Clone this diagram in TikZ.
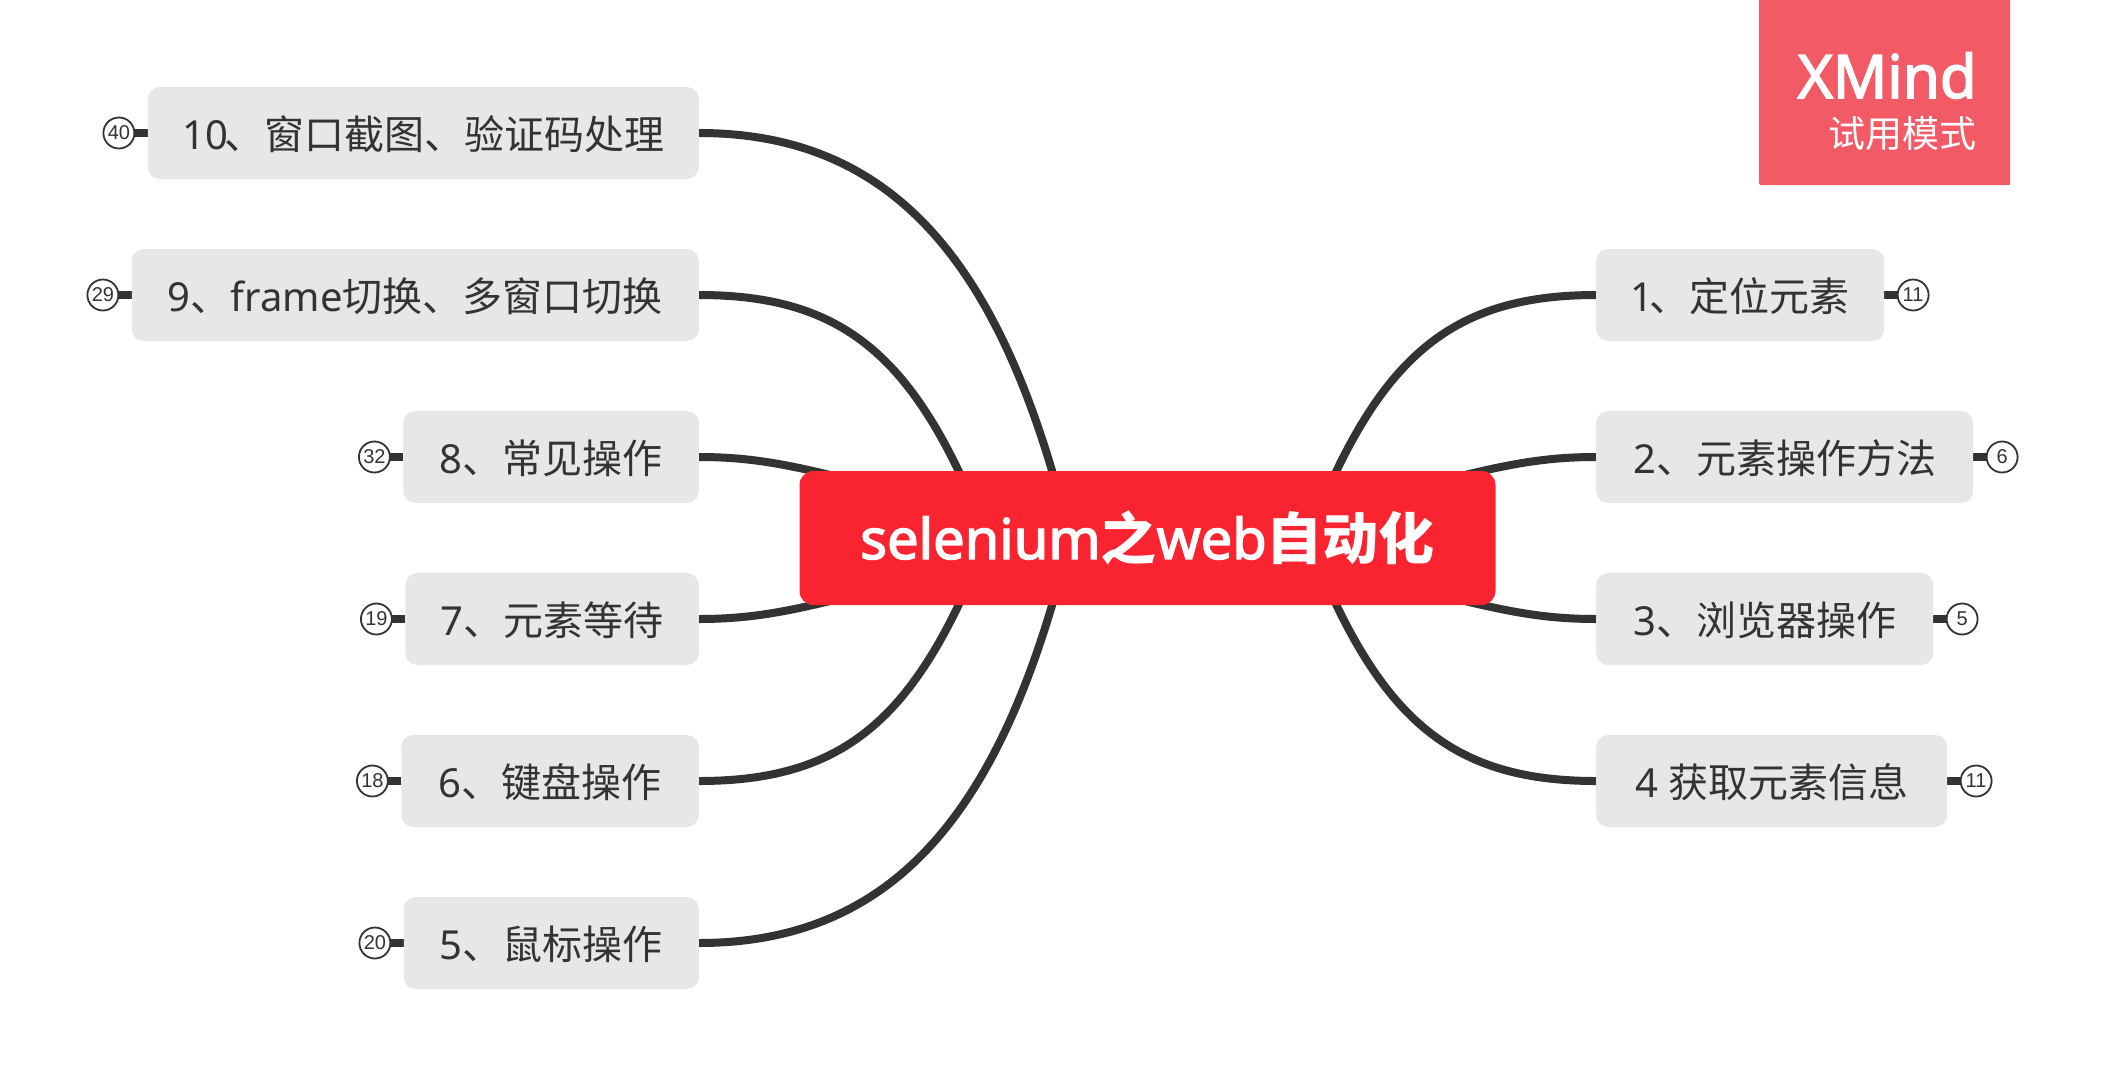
\documentclass[tikz,border=0pt]{standalone}
\usepackage{fontspec}
\usetikzlibrary{calc,backgrounds}
\setmainfont{Noto Sans}
\newfontfamily\latb{Noto Sans}[FakeBold=2.5]
\newfontfamily\cjk{Noto Sans CJK SC}
\newfontfamily\arl{Liberation Sans}
\definecolor{ink}{HTML}{333333}
\definecolor{boxgrey}{HTML}{E7E7E7}
\definecolor{hubred}{HTML}{FA2430}
\definecolor{wmred}{HTML}{F25A65}
\tikzset{
  topic/.style={fill=boxgrey,rounded corners=12pt,inner sep=0pt,minimum height=92pt,minimum width=#1,
    text=ink,font=\fontsize{40pt}{40pt}\selectfont,text height=36pt,text depth=4pt},
  ltopic/.style={topic=#1,anchor=east},
  rtopic/.style={topic=#1,anchor=west},
  hub/.style={fill=hubred,rounded corners=14pt,inner sep=0pt,minimum width=696pt,minimum height=134pt,
    text=white,font=\fontsize{56pt}{56pt}\selectfont\latb,text height=49pt,text depth=7pt},
  badge/.style={circle,draw=ink,line width=1.8pt,fill=white,inner sep=0pt,minimum size=31pt,
    text=ink,font=\arl\fontsize{20pt}{20pt}\selectfont},
  conn/.style={draw=ink,line width=8pt},
  stub/.style={draw=ink,line width=8pt},
}
\begin{document}
\begin{tikzpicture}[x=1pt,y=-1pt]
\useasboundingbox (0,0) rectangle (2105,1077);
% watermark
\node[fill=wmred,inner sep=0pt,minimum width=251pt,minimum height=188pt,anchor=north west,rounded corners=2pt] (wm) at (1759,-3) {};
\node[anchor=base east,text=white,inner sep=0pt,font=\fontsize{60pt}{60pt}\selectfont\latb] (wm1) at (1977,98) {XMind};
\node[anchor=base east,text=white,inner sep=0pt,font=\cjk\fontsize{37pt}{37pt}\selectfont] (wm2) at (1977,147) {试用模式};
% hub
\node[hub] (c) at (1147.5,538) {selenium{\cjk\bfseries 之}web{\cjk\bfseries 自动化}};
% left topics
\node[ltopic=551pt] (b10) at (699,133) {10\kern-4pt{\cjk 、窗口截图、验证码处理}};
\node[ltopic=567pt] (b9) at (699,295) {9{\cjk 、}frame{\cjk 切换、多窗口切换}};
\node[ltopic=295.5pt] (b8) at (699,457) {8{\cjk 、常见操作}};
\node[ltopic=293.5pt] (b7) at (699,619) {7{\cjk 、元素等待}};
\node[ltopic=297.5pt] (b6) at (699,781) {6{\cjk 、键盘操作}};
\node[ltopic=295pt] (b5) at (699,943) {5{\cjk 、鼠标操作}};
% right topics
\node[rtopic=288pt] (b1) at (1596,295) {1\kern-4pt{\cjk 、定位元素}};
\node[rtopic=377pt] (b2) at (1596,457) {2{\cjk 、元素操作方法}};
\node[rtopic=337pt] (b3) at (1596,619) {3{\cjk 、浏览器操作}};
\node[rtopic=351pt] (b4) at (1596,781) {4 {\cjk 获取元素信息}};
% badges
\node[badge] (g10) at ($(b10.west)+(-28.7,0)$) {40};
\node[badge] (g9) at ($(b9.west)+(-28.7,0)$) {29};
\node[badge] (g8) at ($(b8.west)+(-28.7,0)$) {32};
\node[badge] (g7) at ($(b7.west)+(-28.7,0)$) {19};
\node[badge] (g6) at ($(b6.west)+(-28.7,0)$) {18};
\node[badge] (g5) at ($(b5.west)+(-28.7,0)$) {20};
\node[badge] (g1) at ($(b1.east)+(28.7,0)$) {11};
\node[badge] (g2) at ($(b2.east)+(28.7,0)$) {6};
\node[badge] (g3) at ($(b3.east)+(28.7,0)$) {5};
\node[badge] (g4) at ($(b4.east)+(28.7,0)$) {11};
\begin{scope}[on background layer]
% far curves
\draw[conn] (b10.east) .. controls +(191,0) and ($(c.center)+(-157.5,-278)$) .. ($(c.center)+(-94.5,-64)$);
\draw[conn] (b5.east) .. controls +(191,0) and ($(c.center)+(-157.5,278)$) .. ($(c.center)+(-94.5,64)$);
% mid curves
\draw[conn] (b9.east) .. controls +(130,0) and ($(c.center)+(-248.5,-193)$) .. ($(c.center)+(-187,-63)$);
\draw[conn] (b6.east) .. controls +(130,0) and ($(c.center)+(-248.5,193)$) .. ($(c.center)+(-187,63)$);
\draw[conn] (b1.west) .. controls +(-130,0) and ($(c.center)+(248.5,-193)$) .. ($(c.center)+(187,-63)$);
\draw[conn] (b4.west) .. controls +(-130,0) and ($(c.center)+(248.5,193)$) .. ($(c.center)+(187,63)$);
% near curves
\draw[conn] (b8.east) .. controls +(50,0) and ($(c.center)+(-362,-74)$) .. ($(c.center)+(-305,-60)$);
\draw[conn] (b7.east) .. controls +(50,0) and ($(c.center)+(-362,74)$) .. ($(c.center)+(-305,60)$);
\draw[conn] (b2.west) .. controls +(-50,0) and ($(c.center)+(362,-74)$) .. ($(c.center)+(305,-60)$);
\draw[conn] (b3.west) .. controls +(-50,0) and ($(c.center)+(362,74)$) .. ($(c.center)+(305,60)$);
% badge stubs
\foreach \i in {5,6,7,8,9,10} \draw[stub] (b\i.west) -- (g\i.center);
\foreach \i in {1,2,3,4} \draw[stub] (b\i.east) -- (g\i.center);
\end{scope}
\end{tikzpicture}
\end{document}
